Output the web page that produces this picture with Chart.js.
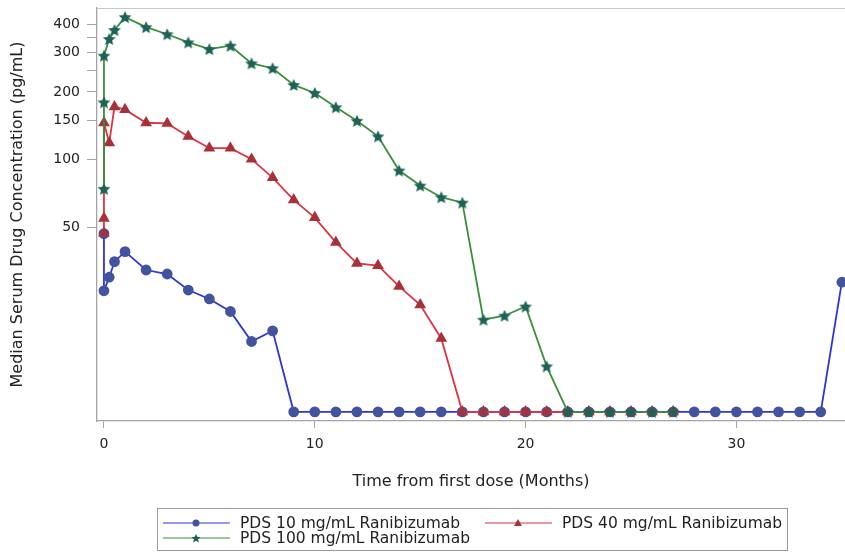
<!DOCTYPE html>
<html>
<head>
<meta charset="utf-8">
<script src="https://cdn.jsdelivr.net/npm/chart.js@4.4.1/dist/chart.umd.min.js"></script>
<style>
  html, body { margin: 0; padding: 0; background: #fff; }
  canvas { display: block; }
</style>
</head>
<body>
<canvas id="chart" width="845" height="554"></canvas>
<script>
// samples below the limit of quantification sit on the floor of the axis
const BLQ = 7.6

// PDS 10 mg/mL
const months10 = [0, 0, 0.25, 0.5, 1, 2, 3, 4, 5, 6, 7, 8, 9, 10, 11, 12, 13, 14, 15, 16, 17, 18, 19, 20, 21, 22, 23, 24, 25, 26, 27, 28, 29, 30, 31, 32, 33, 34, 35]
const conc10 = [47, 26.2, 30.1, 35.3, 39.1, 32.4, 31.1, 26.4, 24.1, 21.2, 15.6, 17.4,
    BLQ, BLQ, BLQ, BLQ, BLQ, BLQ, BLQ, BLQ, BLQ, BLQ, BLQ, BLQ, BLQ,
    BLQ, BLQ, BLQ, BLQ, BLQ, BLQ, BLQ, BLQ, BLQ, BLQ, BLQ, BLQ, BLQ, 28.6]

// PDS 40 mg/mL
const months40 = [0, 0, 0, 0.25, 0.5, 1, 2, 3, 4, 5, 6, 7, 8, 9, 10, 11, 12, 13, 14, 15, 16, 17, 18, 19, 20, 21, 22, 23, 24, 25, 26, 27]
const conc40 = [47.2, 55, 146, 119, 172, 167, 146, 145, 127, 112.6, 112.6, 100.6, 83.3, 66.4, 55.4, 43, 34.7, 33.9, 27.4, 22.7, 16.1,
    BLQ, BLQ, BLQ, BLQ, BLQ, BLQ, BLQ, BLQ, BLQ, BLQ, BLQ]

// PDS 100 mg/mL
const months100 = [0, 0, 0, 0.25, 0.5, 1, 2, 3, 4, 5, 6, 7, 8, 9, 10, 11, 12, 13, 14, 15, 16, 17, 18, 19, 20, 21, 22, 23, 24, 25, 26, 27]
const conc100 = [74.3, 180, 290, 344, 377, 430, 388, 361, 332, 310, 321, 268, 255, 215, 198, 171, 149, 127, 89.6, 76.8, 68.2, 64.5,
    19.5, 20.3, 22.3, 12.1, BLQ, BLQ, BLQ, BLQ, BLQ, BLQ]

const seriesLabels = ['PDS 10 mg/mL Ranibizumab', 'PDS 40 mg/mL Ranibizumab', 'PDS 100 mg/mL Ranibizumab']

const xTicks = [0, 10, 20, 30]
const yTicks = [50, 100, 150, 200, 250, 300, 350, 400]
const yTickLabels = ['50', '100', '150', '200', '', '300', '', '400']

const AXIS_GREY = '#a4a4a4'
const TEXT = '#222222'
const FONT = 'DejaVu Sans'

function toPoints(xs, ys) {
    return xs.map((x, i) => ({ x: x, y: ys[i] }))
}

// filled five point star, chart.js only has the stroked asterisk kind
function starImage(size, fill) {
    const c = document.createElement('canvas')
    c.width = size
    c.height = size
    const g = c.getContext('2d')
    const r = size / 2
    g.beginPath()
    for (let i = 0; i < 10; i++) {
        const a = -Math.PI / 2 + i * Math.PI / 5
        const rr = i % 2 ? r * 0.45 : r - 0.3
        g.lineTo(r + rr * Math.cos(a), r + 0.6 + rr * Math.sin(a))
    }
    g.closePath()
    g.fillStyle = fill
    g.fill()
    return c
}

const STAR_FILL = '#1d6356'
const bigStar = starImage(14, STAR_FILL)
const smallStar = starImage(10, STAR_FILL)

// legend drawn as a framed two column box under the axis title
const boxLegend = {
    id: 'boxLegend',
    afterDraw(chart) {
        const ctx = chart.ctx
        const sets = chart.data.datasets
        const slots = [
            { x: 163, y: 523 },
            { x: 485, y: 523 },
            { x: 163, y: 538 }
        ]
        ctx.save()
        ctx.strokeStyle = '#9a9a9a'
        ctx.lineWidth = 1
        ctx.strokeRect(157.5, 508.5, 630, 42)
        ctx.font = '15.5px ' + FONT
        ctx.textBaseline = 'middle'
        ctx.fillStyle = TEXT
        sets.forEach((ds, i) => {
            const s = slots[i]
            ctx.strokeStyle = ds.borderColor
            ctx.lineWidth = 1.2
            ctx.beginPath()
            ctx.moveTo(s.x, s.y)
            ctx.lineTo(s.x + 67, s.y)
            ctx.stroke()
            const mx = s.x + 33
            ctx.fillStyle = ds.pointBackgroundColor
            if (ds.legendMarker === 'circle') {
                ctx.beginPath()
                ctx.arc(mx, s.y, 3.5, 0, Math.PI * 2)
                ctx.fill()
            } else if (ds.legendMarker === 'triangle') {
                ctx.beginPath()
                ctx.moveTo(mx, s.y - 4)
                ctx.lineTo(mx + 4, s.y + 3)
                ctx.lineTo(mx - 4, s.y + 3)
                ctx.closePath()
                ctx.fill()
            } else {
                ctx.drawImage(smallStar, mx - 5, s.y - 5)
            }
            ctx.fillStyle = TEXT
            ctx.fillText(ds.label, s.x + 77, s.y + 1)
        })
        ctx.restore()
    }
}

// thin frame line along the top of the plot area
const topFrame = {
    id: 'topFrame',
    beforeDatasetsDraw(chart) {
        const { ctx, chartArea } = chart
        ctx.save()
        ctx.strokeStyle = '#c8c8c8'
        ctx.lineWidth = 1
        ctx.beginPath()
        ctx.moveTo(chartArea.left, chartArea.top + 0.5)
        ctx.lineTo(chartArea.right, chartArea.top + 0.5)
        ctx.stroke()
        ctx.restore()
    }
}

const config = {
    type: 'line',
    data: {
        datasets: [{
            label: seriesLabels[0],
            data: toPoints(months10, conc10),
            borderColor: '#2f34d6',
            borderWidth: 1.8,
            pointStyle: 'circle',
            pointRadius: 4.5,
            pointBackgroundColor: '#41549d',
            pointBorderColor: '#41549d',
            legendMarker: 'circle',
            order: 3
        }, {
            label: seriesLabels[1],
            data: toPoints(months40, conc40),
            borderColor: '#dc3444',
            borderWidth: 1.8,
            pointStyle: 'triangle',
            pointRadius: 5,
            pointBackgroundColor: '#a8323a',
            pointBorderColor: '#a8323a',
            legendMarker: 'triangle',
            order: 2
        }, {
            label: seriesLabels[2],
            data: toPoints(months100, conc100),
            borderColor: '#3a8f3a',
            borderWidth: 1.8,
            pointStyle: bigStar,
            pointRadius: 7,
            pointBackgroundColor: STAR_FILL,
            pointBorderColor: STAR_FILL,
            legendMarker: 'star',
            order: 1
        }]
    },
    options: {
        responsive: false,
        animation: false,
        clip: false,
        layout: { autoPadding: false, padding: { top: 8, right: 0, bottom: 0, left: 0 } },
        elements: { line: { tension: 0 } },
        plugins: {
            legend: { display: false },
            tooltip: { enabled: false }
        },
        scales: {
            x: {
                type: 'linear',
                min: -0.33,
                max: 35.15,
                afterBuildTicks: scale => { scale.ticks = xTicks.map(v => ({ value: v })) },
                afterFit: scale => {
                    scale.height = 133
                    scale.paddingLeft = 0
                    scale.paddingRight = 0
                },
                border: { display: true, color: AXIS_GREY, width: 1.3 },
                grid: { drawOnChartArea: false, drawTicks: true, tickLength: 7, color: AXIS_GREY },
                ticks: {
                    autoSkip: false,
                    maxRotation: 0,
                    padding: 8,
                    color: TEXT,
                    font: { family: FONT, size: 14 }
                },
                title: {
                    display: true,
                    text: 'Time from first dose (Months)',
                    color: TEXT,
                    font: { family: FONT, size: 16 },
                    padding: { top: 0, bottom: 63 }
                }
            },
            y: {
                type: 'logarithmic',
                min: 6.92,
                max: 472,
                afterBuildTicks: scale => { scale.ticks = yTicks.map(v => ({ value: v })) },
                afterFit: scale => {
                    scale.width = 97
                    scale.paddingTop = 0
                    scale.paddingBottom = 0
                },
                border: { display: true, color: AXIS_GREY, width: 1.3 },
                grid: { drawOnChartArea: false, drawTicks: true, tickLength: 10, color: AXIS_GREY },
                ticks: {
                    autoSkip: false,
                    padding: 7,
                    color: TEXT,
                    font: { family: FONT, size: 14 },
                    callback: (value) => yTickLabels[yTicks.indexOf(value)]
                },
                title: {
                    display: true,
                    text: 'Median Serum Drug Concentration (pg/mL)',
                    color: TEXT,
                    font: { family: FONT, size: 16 },
                    padding: { top: 8, bottom: 0 }
                }
            }
        }
    },
    plugins: [topFrame, boxLegend]
}

const mychart = new Chart(document.getElementById('chart'), config)
</script>
</body>
</html>
